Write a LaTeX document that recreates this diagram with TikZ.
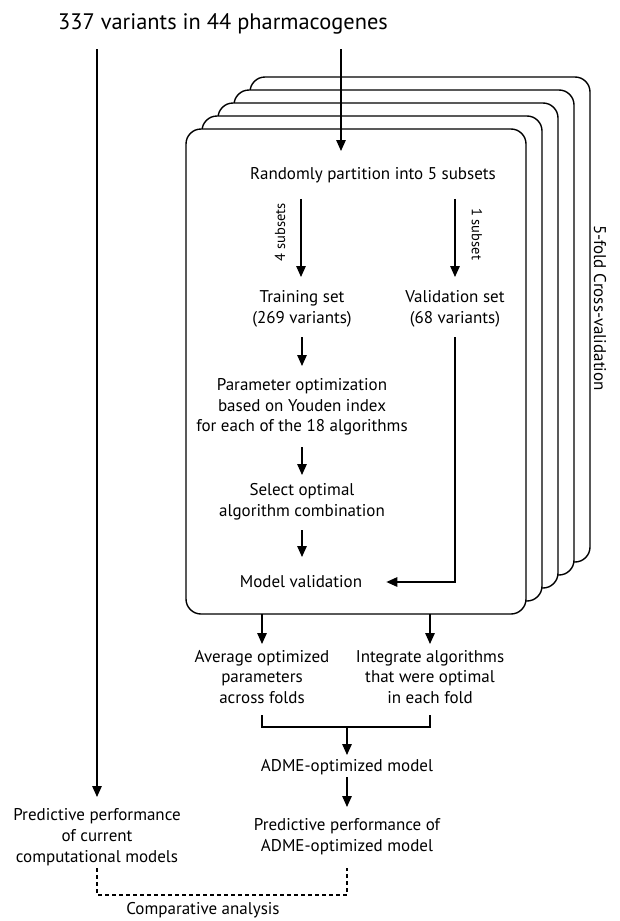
\documentclass[tikz,border=0pt]{standalone}
\usepackage{fontspec}
\setmainfont{PT Sans}
\usetikzlibrary{arrows.meta,calc}
\begin{document}
\begin{tikzpicture}[x=1pt,y=-1pt,
  arr/.style={line width=1.4pt,-{Triangle[length=11pt,width=9.5pt]}},
  ln/.style={line width=1.4pt},
  dashln/.style={line width=1.4pt,dash pattern=on 4pt off 3pt},
  txt/.style={font=\fontsize{17}{20.7}\selectfont, align=center, inner sep=0pt},
  small/.style={font=\fontsize{14.5}{16}\selectfont, inner sep=0pt},
  card/.style={line width=1.4pt, rounded corners=15pt, fill=white}]
\useasboundingbox (0,0) rectangle (619,921);

% stacked folds
\foreach \i in {4,3,2,1}
  \draw[card] (186+16*\i,129-13*\i) rectangle (526+16*\i,614-13*\i);
\draw[card] (186,129) rectangle (526,614);

% texts
\node[font=\fontsize{22.4}{26}\selectfont, inner sep=0pt] (title) at (223,24) {337 variants in 44 pharmacogenes};
\node[txt] (part) at (373,175) {Randomly partition into 5 subsets};
\node[txt] (train) at (302,309) {Training set\\(269 variants)};
\node[txt] (valid) at (455,309) {Validation set\\(68 variants)};
\node[txt] (param) at (302,407) {Parameter optimization\\based on Youden index\\for each of the 18 algorithms};
\node[txt] (select) at (302,502) {Select optimal\\algorithm combination};
\node[txt] (model) at (301,582) {Model validation};
\node[txt] (avg) at (262,677) {Average optimized\\parameters\\across folds};
\node[txt] (integ) at (430,677) {Integrate algorithms\\that were optimal\\in each fold};
\node[txt] (adme) at (347,767) {ADME-optimized model};
\node[txt] (predA) at (347,837) {Predictive performance of\\ADME-optimized model};
\node[txt] (predC) at (97,837) {Predictive performance\\of current\\computational models};
\node[txt] (comp) at (203,910) {Comparative analysis};
\node[txt, rotate=-90] (cv) at (600,308) {5-fold Cross-validation};
\node[small, rotate=90] (four) at (280,232) {4 subsets};
\node[small, rotate=-90] (one) at (477,234) {1 subset};

% connectors
\coordinate (tl) at (97,49);
\coordinate (tr) at (341,49);
\draw[arr] (tl) -- (predC.north |- 0,797);
\draw[arr] (tr) -- (341,151);
\draw[arr] (part.south -| 301,0) ++(0,16) -- (301,277);
\draw[arr] (part.south -| 455,0) ++(0,16) -- (455,277);
\draw[arr] (train.south |- 0,337) -- (param.north |- 0,366);
\draw[arr] (param.south |- 0,447) -- (select.north |- 0,475);
\draw[arr] (select.south |- 0,530) -- (select.south |- 0,557);
\draw[arr] (valid.south |- 0,337) |- ($(model.east)+(24,0)$);
\draw[arr] (avg.north |- 0,614) -- (avg.north |- 0,644);
\draw[arr] (integ.north |- 0,614) -- (integ.north |- 0,644);
\draw[ln] (avg.south |- 0,715) -- (avg.south |- 0,727) -- (integ.south |- 0,727) -- (integ.south |- 0,715);
\draw[arr] (adme.north |- 0,727) -- (adme.north |- 0,755);
\draw[arr] (adme.south |- 0,777) -- (predA.north |- 0,807);
\draw[dashln] (predC.south |- 0,868) -- (predC.south |- 0,895) -- (predA.south |- 0,895) -- (predA.south |- 0,868);
\end{tikzpicture}
\end{document}
